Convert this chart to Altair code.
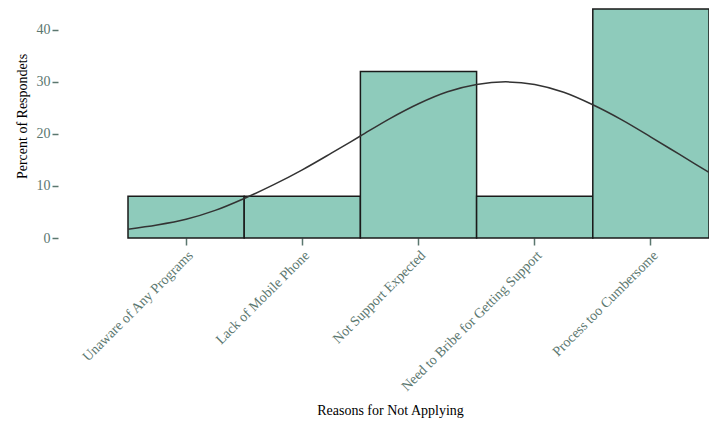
import altair as alt
import pandas as pd

reasons = [
    "Unaware of Any Programs",
    "Lack of Mobile Phone",
    "Not Support Expected",
    "Need to Bribe for Getting Support",
    "Process too Cumbersome",
]
percents = [8, 8, 32, 8, 44]

# fitted curve (x in category-band units, 0..5)
curve_pos = [0, 0.25, 0.5, 0.75, 1.0, 1.25, 1.5, 1.75, 2.0, 2.25, 2.5,
             2.75, 3.0, 3.25, 3.5, 3.75, 4.0, 4.25, 4.5, 4.75, 5.0]
curve_val = [1.7, 2.5, 3.6, 5.3, 7.6, 10.2, 13.1, 16.3, 19.6, 22.9, 25.8,
             28.1, 29.5, 30.0, 29.5, 28.0, 25.6, 22.7, 19.4, 16.0, 12.6]

y_ticks = [0, 10, 20, 30, 40]

bars_df = pd.DataFrame({"reason": reasons, "pct": percents})
curve_df = pd.DataFrame({"pos": curve_pos, "val": curve_val})

label_color = "#5b776f"
font = "Liberation Serif"
y_scale = alt.Scale(domain=[0, 44], nice=False)

y_axis = alt.Axis(
    title="Percent of Respondets",
    values=y_ticks,
    offset=70,
    domain=False,
    grid=False,
    tickSize=6,
    tickWidth=1.5,
    tickColor=label_color,
    labelPadding=2,
    labelColor=label_color,
    labelFontSize=14,
    labelFont=font,
    titleFont=font,
    titleFontSize=14,
    titleFontWeight="normal",
    titleColor="#000000",
    titleX=-36,
    titleY=107,
    titleBaseline="middle",
    titleAlign="center",
)

bars = alt.Chart(bars_df).mark_bar(
    color="#8ecbbb", stroke="#1a1a1a", strokeWidth=1.5
).encode(
    x=alt.X(
        "reason:N",
        sort=reasons,
        scale=alt.Scale(paddingInner=0, paddingOuter=0),
        axis=alt.Axis(
            title="Reasons for Not Applying",
            labelAngle=-45,
            labelAlign="right",
            labelBaseline="top",
            labelPadding=3,
            labelColor=label_color,
            labelFontSize=14,
            labelFont=font,
            labelLimit=400,
            tickColor=label_color,
            tickSize=7,
            tickWidth=1.5,
            domain=False,
            titleFont=font,
            titleFontSize=14,
            titleFontWeight="normal",
            titleColor="#000000",
            titleX=262,
            titleY=172,
            titleBaseline="middle",
            titleAlign="center",
        ),
    ),
    y=alt.Y("pct:Q", scale=y_scale, axis=y_axis),
)

curve = alt.Chart(curve_df).mark_line(
    color="#333333", strokeWidth=1.5, interpolate="monotone"
).encode(
    x=alt.X("pos:Q", scale=alt.Scale(domain=[0, 5], nice=False, zero=False), axis=None),
    y=alt.Y("val:Q", scale=y_scale, axis=y_axis),
)

chart = (
    alt.layer(bars, curve)
    .resolve_scale(x="independent")
    .properties(
        width=581,
        height=229,
        padding={"left": 120, "top": 1, "right": 0, "bottom": 180},
        autosize=alt.AutoSizeParams(type="none"),
    )
    .configure_view(stroke=None)
)

chart.save("out.html", embed_options={"renderer": "svg", "actions": False})
